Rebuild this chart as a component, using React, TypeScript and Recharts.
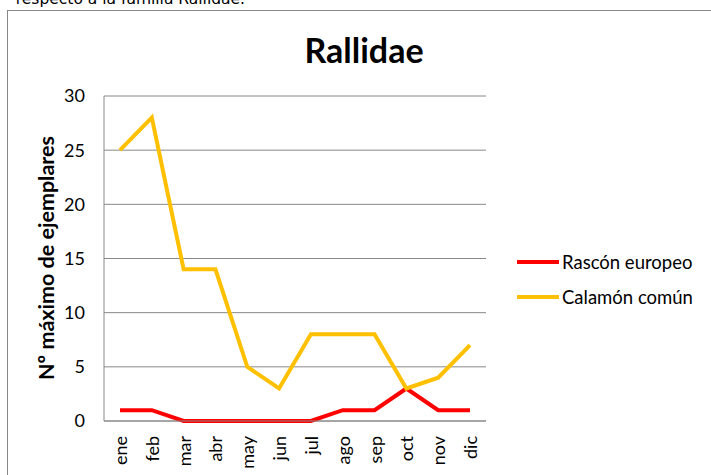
import { LineChart, Line, XAxis, YAxis, CartesianGrid } from "recharts";

const months = ["ene", "feb", "mar", "abr", "may", "jun", "jul", "ago", "sep", "oct", "nov", "dic"];
const rascon = [1, 1, 0, 0, 0, 0, 0, 1, 1, 3, 1, 1];
const calamon = [25, 28, 14, 14, 5, 3, 8, 8, 8, 3, 4, 7];
const yTicks = [0, 5, 10, 15, 20, 25, 30];

const data = months.map((m, i) => ({ month: m, rascon: rascon[i], calamon: calamon[i] }));

const font = "Lato, 'Open Sans', sans-serif";

const MonthTick = (props: any) => {
    const { x, y, payload } = props;
    return (
        <text
            x={x}
            y={y + 7}
            transform={`rotate(-90, ${x}, ${y + 7})`}
            textAnchor="end"
            dominantBaseline="central"
            fontSize={18}
            fontFamily={font}
            fill="#000"
        >
            {payload.value}
        </text>
    );
};

const LegendBox = () => (
    <div style={{ position: "absolute", left: 517, top: 244, fontFamily: font, fontSize: 18.5, color: "#000" }}>
        {[
            { name: "Rascón europeo", color: "#FF0000" },
            { name: "Calamón común", color: "#FFC000" },
        ].map((s) => (
            <div key={s.name} style={{ display: "flex", alignItems: "center", height: 35 }}>
                <span style={{ width: 42, height: 4, background: s.color, marginRight: 3 }} />
                {s.name}
            </div>
        ))}
    </div>
);

export default function App() {
    return (
        <div style={{ position: "absolute", left: 0, top: 0, width: 711, height: 475, overflow: "hidden", background: "#fff" }}>
            <div
                style={{
                    position: "absolute",
                    right: 711 - 245,
                    top: -10,
                    whiteSpace: "nowrap",
                    fontFamily: "'DejaVu Sans', sans-serif",
                    fontSize: 15.5,
                }}
            >
                respecto a la familia Rallidae.
            </div>
            <div
                style={{
                    position: "absolute",
                    left: 7,
                    top: 10,
                    width: 720,
                    height: 480,
                    borderLeft: "1.5px solid #888",
                    borderTop: "1.5px solid #888",
                }}
            />
            <div
                style={{
                    position: "absolute",
                    left: 364,
                    top: 49,
                    transform: "translate(-50%, -50%)",
                    whiteSpace: "nowrap",
                    fontFamily: font,
                    fontWeight: 700,
                    fontSize: 34,
                }}
            >
                Rallidae
            </div>
            <div
                style={{
                    position: "absolute",
                    left: 46,
                    top: 258,
                    transform: "translate(-50%, -50%) rotate(-90deg)",
                    whiteSpace: "nowrap",
                    fontFamily: font,
                    fontWeight: 700,
                    fontSize: 21.5,
                }}
            >
                Nº máximo de ejemplares
            </div>
            <div style={{ position: "absolute", left: 0, top: 0 }}>
                <LineChart width={711} height={475} data={data} margin={{ top: 96, right: 225, bottom: 0, left: 64 }}>
                    <CartesianGrid vertical={false} stroke="#888" strokeWidth={1} />
                    <XAxis
                        dataKey="month"
                        height={54}
                        tick={<MonthTick />}
                        tickLine={false}
                        axisLine={{ stroke: "#888" }}
                        interval={0}
                        padding={{ left: 16, right: 16 }}
                    />
                    <YAxis
                        width={40}
                        domain={[0, 30]}
                        ticks={yTicks}
                        tickLine={false}
                        axisLine={{ stroke: "#888" }}
                        tick={{ fontSize: 18, fontFamily: font, fill: "#000" }}
                        tickMargin={13}
                    />
                    <Line
                        dataKey="rascon"
                        name="Rascón europeo"
                        stroke="#FF0000"
                        strokeWidth={4}
                        dot={false}
                        type="linear"
                        isAnimationActive={false}
                    />
                    <Line
                        dataKey="calamon"
                        name="Calamón común"
                        stroke="#FFC000"
                        strokeWidth={4}
                        dot={false}
                        type="linear"
                        isAnimationActive={false}
                    />
                </LineChart>
            </div>
            <LegendBox />
        </div>
    );
}
